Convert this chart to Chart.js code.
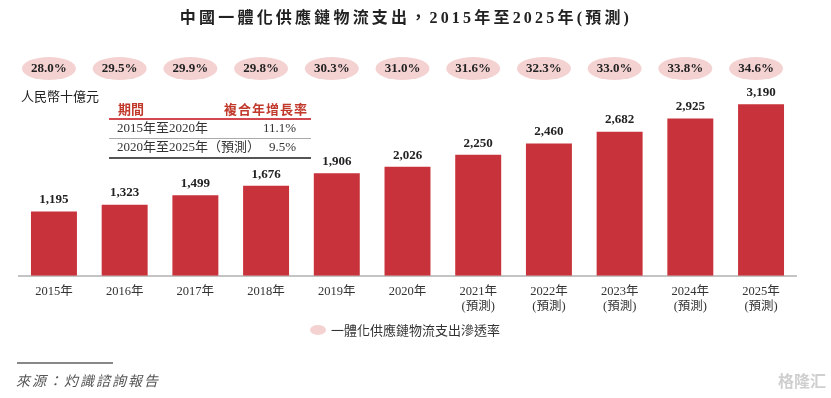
<!DOCTYPE html>
<html>
<head>
<meta charset="utf-8">
<script src="https://cdn.jsdelivr.net/npm/chart.js@4.4.1/dist/chart.umd.min.js"></script>
<style>
  html, body { margin: 0; padding: 0; background: #fff; }
  #wrap { width: 831px; height: 398px; position: relative; }
</style>
</head>
<body>
<div id="wrap"><canvas id="chart" width="831" height="398"></canvas></div>
<script>
// data
const years = ['2015年', '2016年', '2017年', '2018年', '2019年', '2020年',
  ['2021年', '(預測)'], ['2022年', '(預測)'], ['2023年', '(預測)'], ['2024年', '(預測)'], ['2025年', '(預測)']];
const spending = [1195, 1323, 1499, 1676, 1906, 2026, 2250, 2460, 2682, 2925, 3190];
const penetration = ['28.0%', '29.5%', '29.9%', '29.8%', '30.3%', '31.0%', '31.6%', '32.3%', '33.0%', '33.8%', '34.6%'];
const cagrPeriods = ['2015年至2020年', '2020年至2025年（預測）'];
const cagrValues = ['11.1%', '9.5%'];

const SERIF = "'Liberation Serif', 'Times New Roman', 'Noto Sans CJK TC', serif";
const SANS = "'Noto Sans CJK TC', 'Noto Sans', sans-serif";
const RED = '#c8323a';
const PINK = '#f5d2d2';

// everything that is not a bar: title, percent bubbles, value labels, table, legend, source
const extras = {
  id: 'extras',
  afterDatasetsDraw(chart) {
    const ctx = chart.ctx;
    const xs = chart.scales.x;
    const meta = chart.getDatasetMeta(0);
    ctx.save();

    // title
    ctx.fillStyle = '#222';
    ctx.font = 'bold 16px ' + SERIF;
    ctx.letterSpacing = '3.2px';
    ctx.textAlign = 'center';
    ctx.textBaseline = 'middle';
    ctx.fillText('中國一體化供應鏈物流支出，2015年至2025年(預測)', 406, 19);
    ctx.letterSpacing = '0px';

    // penetration bubbles
    penetration.forEach((p, i) => {
      const cx = xs.getPixelForValue(i) - 5;
      ctx.fillStyle = PINK;
      ctx.beginPath();
      ctx.ellipse(cx, 68.5, 27, 11.5, 0, 0, Math.PI * 2);
      ctx.fill();
      ctx.fillStyle = '#222';
      ctx.font = 'bold 13px ' + SERIF;
      ctx.fillText(p, cx, 69);
    });

    // value labels over the bars
    ctx.font = 'bold 13px ' + SERIF;
    ctx.textBaseline = 'bottom';
    meta.data.forEach((bar, i) => {
      ctx.fillText(spending[i].toLocaleString('en-US'), bar.x, bar.y - 5);
    });

    // unit
    ctx.textAlign = 'left';
    ctx.textBaseline = 'middle';
    ctx.fillStyle = '#222';
    ctx.font = '13px ' + SANS;
    ctx.fillText('人民幣十億元', 21, 96);

    // CAGR table
    ctx.fillStyle = '#c0392b';
    ctx.font = 'bold 13px ' + SANS;
    ctx.fillText('期間', 118, 109);
    ctx.letterSpacing = '1px';
    ctx.fillText('複合年增長率', 224, 109);
    ctx.letterSpacing = '0px';
    ctx.strokeStyle = '#d2484e';
    ctx.lineWidth = 2;
    ctx.beginPath(); ctx.moveTo(109, 119); ctx.lineTo(311, 119); ctx.stroke();
    ctx.fillStyle = '#333';
    ctx.font = '13px ' + SERIF;
    cagrPeriods.forEach((p, i) => {
      const y = 129 + i * 19;
      ctx.textAlign = 'left';
      ctx.fillText(p, 117, y);
      ctx.textAlign = 'right';
      ctx.fillText(cagrValues[i], 296, y);
    });
    ctx.strokeStyle = '#aaa';
    ctx.lineWidth = 1;
    ctx.beginPath(); ctx.moveTo(109, 138.5); ctx.lineTo(311, 138.5); ctx.stroke();
    ctx.strokeStyle = '#555';
    ctx.lineWidth = 2;
    ctx.beginPath(); ctx.moveTo(109, 158); ctx.lineTo(311, 158); ctx.stroke();

    // legend
    ctx.fillStyle = PINK;
    ctx.beginPath();
    ctx.ellipse(318, 330, 8, 5, 0, 0, Math.PI * 2);
    ctx.fill();
    ctx.fillStyle = '#333';
    ctx.textAlign = 'left';
    ctx.font = '13px ' + SANS;
    ctx.fillText('一體化供應鏈物流支出滲透率', 331, 330);

    // source
    ctx.strokeStyle = '#888';
    ctx.lineWidth = 2;
    ctx.beginPath(); ctx.moveTo(17, 363); ctx.lineTo(113, 363); ctx.stroke();
    ctx.fillStyle = '#555';
    ctx.font = 'italic 14px ' + SANS;
    ctx.letterSpacing = '2px';
    ctx.fillText('來源：灼識諮詢報告', 16, 381);
    ctx.letterSpacing = '0px';

    // watermark
    ctx.fillStyle = '#cfcfcf';
    ctx.font = 'bold 16px ' + SANS;
    ctx.textAlign = 'right';
    ctx.fillText('格隆汇', 826, 381);
    ctx.restore();
  }
};

new Chart(document.getElementById('chart'), {
  type: 'bar',
  data: {
    labels: years,
    datasets: [{
      data: spending,
      backgroundColor: RED,
      borderWidth: 0,
      barPercentage: 0.65,
      categoryPercentage: 1
    }]
  },
  options: {
    responsive: false,
    animation: false,
    devicePixelRatio: 1,
    layout: { padding: { left: 18.6, right: 34.6, top: 87.7, bottom: 0 } },
    plugins: {
      legend: { display: false },
      tooltip: { enabled: false }
    },
    scales: {
      x: {
        afterFit: s => { s.height = 122.3; },
        grid: { display: false, drawTicks: false },
        border: { display: true, color: '#c4c4c4', width: 2 },
        ticks: {
          color: '#333',
          padding: 9,
          maxRotation: 0,
          autoSkip: false,
          font: { family: SERIF, size: 12.5, lineHeight: 1.15 }
        }
      },
      y: {
        display: false,
        min: 0,
        max: 3500
      }
    }
  },
  plugins: [extras]
});
</script>
</body>
</html>
